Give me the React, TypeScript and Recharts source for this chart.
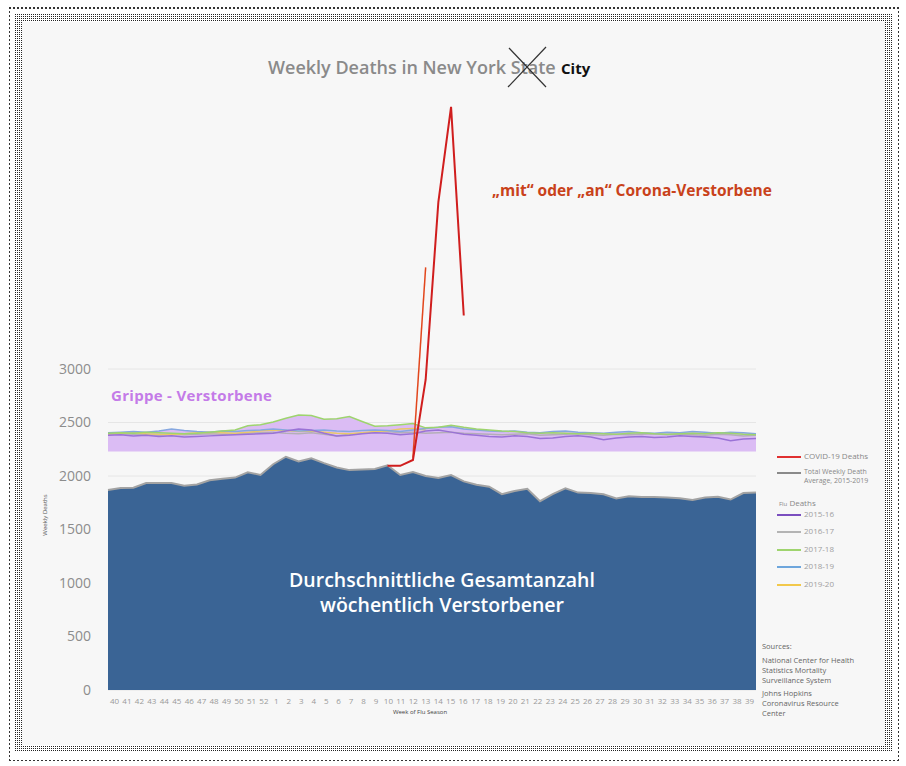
import React from 'react';
import { ComposedChart, Area, Line, XAxis, YAxis, CartesianGrid } from 'recharts';

// ---------- data ----------
const weekLabels = [40, 41, 42, 43, 44, 45, 46, 47, 48, 49, 50, 51, 52, 1, 2, 3, 4, 5, 6, 7, 8, 9, 10, 11, 12, 13, 14, 15, 16, 17, 18, 19, 20, 21, 22, 23, 24, 25, 26, 27, 28, 29, 30, 31, 32, 33, 34, 35, 36, 37, 38, 39];

const totalWeeklyDeathAverage = [1869, 1888, 1890, 1934, 1934, 1934, 1910, 1920, 1960, 1975, 1985, 2035, 2010, 2110, 2180, 2135, 2165, 2120, 2080, 2055, 2060, 2065, 2100, 2010, 2037, 2000, 1981, 2009, 1950, 1918, 1900, 1830, 1860, 1880, 1765, 1830, 1885, 1845, 1840, 1830, 1790, 1810, 1804, 1804, 1800, 1792, 1776, 1800, 1805, 1780, 1841, 1845];

const flu2015_16 = [2380, 2385, 2375, 2380, 2370, 2375, 2365, 2370, 2375, 2380, 2385, 2390, 2395, 2400, 2420, 2440, 2430, 2400, 2375, 2380, 2395, 2405, 2400, 2385, 2395, 2420, 2430, 2410, 2390, 2380, 2370, 2365, 2375, 2370, 2350, 2355, 2370, 2375, 2365, 2340, 2355, 2365, 2370, 2360, 2365, 2375, 2370, 2365, 2355, 2330, 2345, 2350];
const flu2016_17 = [2390, 2395, 2390, 2385, 2380, 2390, 2385, 2390, 2395, 2390, 2395, 2400, 2405, 2410, 2400, 2395, 2405, 2390, 2375, 2390, 2400, 2410, 2415, 2405, 2410, 2400, 2405, 2410, 2400, 2395, 2390, 2385, 2390, 2395, 2380, 2385, 2390, 2395, 2385, 2380, 2390, 2385, 2390, 2395, 2385, 2390, 2385, 2380, 2390, 2385, 2375, 2380];
const flu2017_18 = [2400, 2405, 2400, 2410, 2405, 2400, 2395, 2400, 2410, 2420, 2430, 2470, 2480, 2505, 2540, 2570, 2565, 2530, 2535, 2555, 2510, 2465, 2470, 2480, 2490, 2450, 2455, 2475, 2455, 2440, 2430, 2420, 2415, 2405, 2400, 2405, 2400, 2395, 2400, 2395, 2390, 2400, 2405, 2395, 2390, 2395, 2400, 2395, 2405, 2400, 2390, 2385];
const flu2018_19 = [2405, 2410, 2415, 2410, 2420, 2440, 2425, 2415, 2410, 2420, 2415, 2425, 2430, 2440, 2430, 2420, 2425, 2430, 2420, 2415, 2425, 2430, 2425, 2415, 2430, 2445, 2455, 2460, 2440, 2430, 2420, 2415, 2420, 2410, 2405, 2415, 2420, 2410, 2405, 2400, 2410, 2415, 2405, 2400, 2410, 2405, 2415, 2410, 2400, 2410, 2405, 2395];
const flu2019_20 = [2395, 2400, 2405, 2395, 2390, 2385, 2395, 2405, 2410, 2405, 2400, 2410, 2420, 2430, 2425, 2415, 2420, 2410, 2400, 2395, 2405, 2415, 2420, 2440, 2445, 2430];
const fluBandBase = 2230;

const covidWeeks = [10, 11, 12, 13, 14, 15, 16];
const covidDeaths = [2095, 2095, 2150, 2900, 4560, 5450, 3500];
const covidSketchWeeks = [12, 13];
const covidSketch = [2170, 3950];

const yTicks = [0, 500, 1000, 1500, 2000, 2500, 3000];

const data = weekLabels.map((w, i) => {
  const flus = [flu2015_16[i], flu2016_17[i], flu2017_18[i], flu2018_19[i], flu2019_20[i]].filter(
    (v) => v !== undefined && v !== null
  ) as number[];
  const ci = covidWeeks.indexOf(w);
  const si = covidSketchWeeks.indexOf(w);
  return {
    idx: i,
    week: w,
    total: totalWeeklyDeathAverage[i],
    f1: flu2015_16[i],
    f2: flu2016_17[i],
    f3: flu2017_18[i],
    f4: flu2018_19[i],
    f5: i < flu2019_20.length ? flu2019_20[i] : null,
    band: [fluBandBase, Math.max(...flus)],
    covid: ci >= 0 ? covidDeaths[ci] : null,
    sketch: si >= 0 ? covidSketch[si] : null,
  };
});

const xTicks = weekLabels.map((_, i) => i);

const WeekTick = (props: any) => {
  const { x, y, payload } = props;
  const cx = 432 + (x - 432) * (635 / 648);
  return (
    <text x={cx} y={y} dy="0.71em" textAnchor="middle" fontSize={8} fill="#9a9a9a" fontFamily="Open Sans">
      {weekLabels[payload.value]}
    </text>
  );
};

const font = "'Open Sans', 'DejaVu Sans', sans-serif";

const legendItems = [
  { color: '#7b4fbf', label: '2015-16', top: 514 },
  { color: '#b4b4b4', label: '2016-17', top: 531 },
  { color: '#9fd46e', label: '2017-18', top: 549 },
  { color: '#6ea6dc', label: '2018-19', top: 566 },
  { color: '#f2c84b', label: '2019-20', top: 584 },
];

export default function App() {
  return (
    <div style={{ position: 'absolute', left: 0, top: 0, width: 906, height: 766, background: '#fff', fontFamily: font, overflow: 'hidden' }}>
      {/* frames */}
      <div style={{ position: 'absolute', left: 7, top: 7, width: 894, height: 756, backgroundImage: 'repeating-conic-gradient(#333 0 25%, transparent 0 100%)', backgroundSize: '4px 4px' }} />
      <div style={{ position: 'absolute', left: 10, top: 10, width: 888, height: 750, background: '#fff' }} />
      <div style={{ position: 'absolute', left: 14, top: 14, width: 878, height: 738, backgroundImage: 'repeating-conic-gradient(#222 0 25%, transparent 0 100%)', backgroundSize: '2px 2px' }} />
      <div style={{ position: 'absolute', left: 22, top: 22, width: 863, height: 723, background: '#f7f7f7' }} />

      <div style={{ position: 'absolute', left: 0, top: 0 }}>
        <ComposedChart width={906} height={766} data={data} margin={{ top: 48, right: 150, bottom: 46, left: 58 }}>
          <CartesianGrid vertical={false} stroke="#e6e6e6" horizontalValues={yTicks} />
          <XAxis
            dataKey="idx"
            type="number"
            domain={[0, 51]}
            ticks={xTicks}
            interval={0}
            tick={<WeekTick />}
            tickLine={false}
            axisLine={false}
            tickSize={0}
            tickMargin={8}
            height={30}
          />
          <YAxis
            domain={[0, 6000]}
            ticks={yTicks}
            width={50}
            tickLine={false}
            axisLine={false}
            tickSize={0}
            tickMargin={17}
            tick={{ fontSize: 14, fill: '#8c8c8c', fontFamily: font }}
            allowDataOverflow
          />
          <Area dataKey="band" type="linear" fill="#dbbcf4" fillOpacity={1} stroke="none" isAnimationActive={false} />
          <Line dataKey="f2" type="linear" stroke="#b4aeb8" strokeWidth={1.5} dot={false} isAnimationActive={false} />
          <Line dataKey="f5" type="linear" stroke="#e8c86a" strokeWidth={1.5} dot={false} isAnimationActive={false} />
          <Line dataKey="f4" type="linear" stroke="#86a8e0" strokeWidth={1.5} dot={false} isAnimationActive={false} />
          <Line dataKey="f3" type="linear" stroke="#9ed46e" strokeWidth={1.5} dot={false} isAnimationActive={false} />
          <Line dataKey="f1" type="linear" stroke="#9a72d6" strokeWidth={1.5} dot={false} isAnimationActive={false} />
          <Area dataKey="total" type="linear" fill="#3a6495" fillOpacity={1} stroke="#a3a3a3" strokeWidth={2} baseValue={0} isAnimationActive={false} />
          <Line dataKey="sketch" type="linear" stroke="#e2461c" strokeWidth={1.5} dot={false} isAnimationActive={false} />
          <Line dataKey="covid" type="linear" stroke="#d01e1e" strokeWidth={2} dot={false} isAnimationActive={false} />
        </ComposedChart>
      </div>

      {/* title */}
      <div style={{ position: 'absolute', left: 268, top: 56, fontSize: 18, lineHeight: '22px', fontWeight: 600, color: '#8a8a8a', whiteSpace: 'nowrap' }}>
        Weekly Deaths in New York State
      </div>
      <div style={{ position: 'absolute', left: 561, top: 58, fontSize: 15, lineHeight: '20px', fontWeight: 700, color: '#111', whiteSpace: 'nowrap' }}>
        City
      </div>
      <svg style={{ position: 'absolute', left: 0, top: 0 }} width={906} height={120}>
        <line x1={509} y1={48} x2={546} y2={87} stroke="#333" strokeWidth={1.2} />
        <line x1={546} y1={47} x2={508} y2={87} stroke="#333" strokeWidth={1.2} />
      </svg>

      {/* annotations */}
      <div style={{ position: 'absolute', left: 492, top: 179, fontSize: 15.5, lineHeight: '22px', fontWeight: 700, color: '#c9421b', whiteSpace: 'nowrap' }}>
        „mit“ oder „an“ Corona-Verstorbene
      </div>
      <div style={{ position: 'absolute', left: 111, top: 384, fontSize: 15, lineHeight: '22px', fontWeight: 700, color: '#c47be8', whiteSpace: 'nowrap', letterSpacing: 0.3 }}>
        Grippe - Verstorbene
      </div>
      <div style={{ position: 'absolute', left: 192, top: 567, width: 500, textAlign: 'center', fontSize: 19.5, lineHeight: '25px', fontWeight: 600, color: '#ffffff', whiteSpace: 'nowrap' }}>
        Durchschnittliche Gesamtanzahl
        <br />
        wöchentlich Verstorbener
      </div>

      {/* axis titles */}
      <div style={{ position: 'absolute', left: 15, top: 511, width: 60, textAlign: 'center', fontSize: 6, lineHeight: '8px', color: '#555', transform: 'rotate(-90deg)', whiteSpace: 'nowrap' }}>
        Weekly Deaths
      </div>
      <div style={{ position: 'absolute', left: 380, top: 708, width: 80, textAlign: 'center', fontSize: 6, lineHeight: '8px', color: '#444', whiteSpace: 'nowrap' }}>
        Week of Flu Season
      </div>

      {/* legend */}
      <div style={{ position: 'absolute', left: 0, top: 0, fontSize: 8, color: '#8a8a8a' }}>
        <div style={{ position: 'absolute', left: 777, top: 456, width: 24, height: 2, background: '#e03030' }} />
        <div style={{ position: 'absolute', left: 804, top: 451, lineHeight: '10px', whiteSpace: 'nowrap', color: '#888' }}>COVID-19 Deaths</div>
        <div style={{ position: 'absolute', left: 777, top: 472, width: 24, height: 2, background: '#8a8a8a' }} />
        <div style={{ position: 'absolute', left: 804, top: 467, lineHeight: '9px', whiteSpace: 'nowrap', fontSize: 7, color: '#888' }}>
          Total Weekly Death
          <br />
          Average, 2015-2019
        </div>
        <div style={{ position: 'absolute', left: 779, top: 498, lineHeight: '10px', whiteSpace: 'nowrap', color: '#888' }}>
          <span style={{ fontSize: 6 }}>Flu</span> Deaths
        </div>
        {legendItems.map((it) => (
          <React.Fragment key={it.label}>
            <div style={{ position: 'absolute', left: 777, top: it.top, width: 24, height: 2, background: it.color }} />
            <div style={{ position: 'absolute', left: 804, top: it.top - 5, lineHeight: '10px', whiteSpace: 'nowrap', color: '#a0a0a0' }}>{it.label}</div>
          </React.Fragment>
        ))}
      </div>

      {/* sources */}
      <div style={{ position: 'absolute', left: 762, top: 641, fontSize: 7.5, lineHeight: '10px', color: '#666', whiteSpace: 'nowrap' }}>
        Sources:
        <div style={{ marginTop: 4 }}>
          National Center for Health
          <br />
          Statistics Mortality
          <br />
          Surveillance System
        </div>
        <div style={{ marginTop: 3 }}>
          Johns Hopkins
          <br />
          Coronavirus Resource
          <br />
          Center
        </div>
      </div>
    </div>
  );
}
